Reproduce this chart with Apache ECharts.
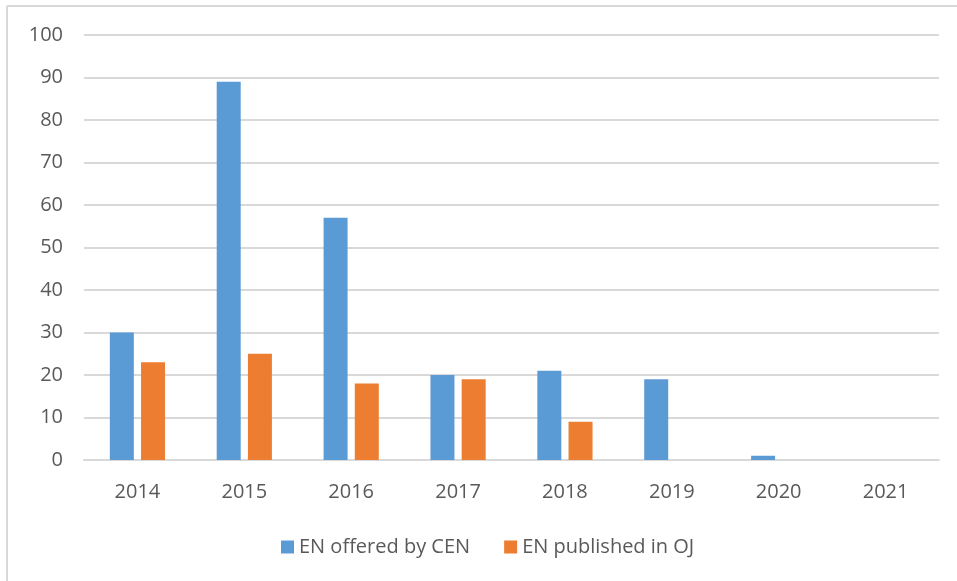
<!DOCTYPE html>
<html>
<head>
<meta charset="utf-8">
<script src="https://cdn.jsdelivr.net/npm/echarts@6/dist/echarts.min.js"></script>
<style>
  html, body { margin: 0; padding: 0; background: #fff; }
  #chart { width: 957px; height: 581px; }
</style>
</head>
<body>
<div id="chart"></div>
<script>
const years = ['2014', '2015', '2016', '2017', '2018', '2019', '2020', '2021'];
const offeredByCen = [30, 89, 57, 20, 21, 19, 1, 0];
const publishedInOj = [23, 25, 18, 19, 9, 0, 0, 0];

const myChart = echarts.init(document.getElementById('chart'), null, { renderer: 'canvas' });
const textColor = '#595959';
const font = 'Open Sans';

let option = {
  animation: false,
  color: ['#5B9BD5', '#ED7D31'],
  grid: { left: 84, right: 18, top: 35, bottom: 121 },
  legend: {
    top: 532,
    left: 276,
    itemWidth: 13,
    itemHeight: 13,
    itemGap: 34,
    icon: 'rect',
    textStyle: { color: textColor, fontFamily: font, fontSize: 20 },
    data: ['EN offered by CEN', 'EN published in OJ']
  },
  xAxis: {
    type: 'category',
    data: years,
    axisTick: { show: false },
    axisLine: { lineStyle: { color: '#d9d9d9', width: 2 } },
    axisLabel: { color: textColor, fontFamily: font, fontSize: 20, margin: 22 }
  },
  yAxis: {
    type: 'value',
    min: 0,
    max: 100,
    interval: 10,
    axisLine: { show: false },
    axisTick: { show: false },
    splitLine: { lineStyle: { color: '#d9d9d9', width: 2 } },
    axisLabel: { color: textColor, fontFamily: font, fontSize: 20, margin: 21 }
  },
  series: [
    {
      name: 'EN offered by CEN',
      type: 'bar',
      data: offeredByCen,
      barWidth: 24,
      barGap: '30%'
    },
    {
      name: 'EN published in OJ',
      type: 'bar',
      data: publishedInOj,
      barWidth: 24
    }
  ],
  graphic: [
    { type: 'line', shape: { x1: 7, y1: 6, x2: 957, y2: 6 }, style: { stroke: '#d9d9d9', lineWidth: 2 } },
    { type: 'line', shape: { x1: 7, y1: 6, x2: 7, y2: 581 }, style: { stroke: '#d9d9d9', lineWidth: 2 } }
  ]
};
myChart.setOption(option);
</script>
</body>
</html>
